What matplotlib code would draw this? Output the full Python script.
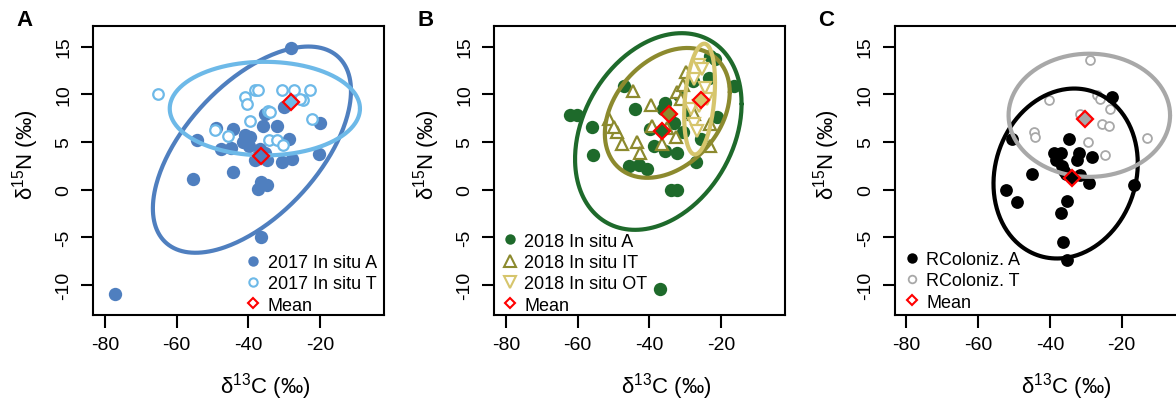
import numpy as np
import matplotlib
matplotlib.use("Agg")
import matplotlib.pyplot as plt
from matplotlib.lines import Line2D

plt.rcParams['font.family'] = ['Liberation Sans', 'DejaVu Sans']
plt.rcParams['mathtext.fontset'] = 'custom'
plt.rcParams['mathtext.rm'] = 'Liberation Sans'
plt.rcParams['mathtext.default'] = 'regular'

# ---------------- data ----------------
# Panel A (2017 in situ)
A_A_x = [-28.1, -30.0, -20.0, -20.2, -54.4, -44.2, -49.0, -47.5, -44.7, -40.9, -39.6, -39.7, -35.8, -35.4,
         -32.1, -28.6, -36.8, -35.4, -37.7, -38.2, -34.9, -30.7, -27.9, -55.5, -44.4, -36.6, -34.9, -37.2,
         -36.5, -77.2, -41.5]
A_A_y = [14.8, 8.7, 7.0, 3.7, 5.2, 6.4, 6.45, 4.3, 4.4, 5.75, 5.5, 4.6, 6.7, 7.9,
         6.7, 5.3, 4.3, 3.9, 3.4, 3.1, 3.1, 2.9, 3.2, 1.15, 1.9, 0.8, 0.5, 0.03,
         -4.95, -10.9, 5.0]
A_T_x = [-65.1, -40.9, -38.2, -37.2, -40.5, -30.7, -27.3, -22.8, -24.7, -25.6, -34.4, -34.0, -39.6, -22.3,
         -49.3, -45.6, -34.3, -32.1, -30.3]
A_T_y = [10.0, 9.7, 10.4, 10.4, 9.0, 10.4, 10.5, 10.4, 9.35, 9.5, 8.3, 8.1, 7.25, 7.4,
         6.3, 5.6, 5.2, 5.2, 4.7]
A_mean_x = [-36.6, -28.1]
A_mean_y = [3.5, 9.2]
# ellipses: centre x, centre y, half-width x, half-height y, correlation
A_ell = [(-39.0, 4.2, 27.6, 10.8, 0.57), (-35.4, 8.5, 26.5, 4.9, 0.0)]
A_labels = ['2017 In situ A', '2017 In situ T', 'Mean']

# Panel B (2018 in situ)
B_A_x = [-62.2, -60.1, -56.0, -55.7, -47.1, -45.7, -43.0, -40.6, -43.9, -35.5, -36.2, -39.7, -38.8, -35.5,
         -32.2, -27.1, -34.1, -32.4, -31.8, -27.8, -21.6, -23.0, -23.4, -16.5, -21.1, -25.7, -36.9, -33.0,
         -30.5, -29.0]
B_A_y = [7.85, 7.85, 6.6, 3.6, 10.85, 2.5, 2.55, 2.2, 8.5, 9.1, 8.5, 6.4, 4.6, 4.1,
         3.8, 2.9, -0.07, -0.07, 9.9, 11.4, 13.7, 14.05, 11.7, 10.85, 7.6, 5.3, -10.35, 7.0,
         6.0, 8.0]
B_IT_x = [-44.5, -51.3, -49.0, -47.6, -43.4, -42.7, -39.5, -39.2, -36.4, -32.7, -32.2, -31.3, -29.9, -27.6,
          -23.0, -23.0, -49.9, -30.5, -35.0]
B_IT_y = [10.3, 7.4, 6.0, 4.8, 5.0, 3.8, 8.9, 6.7, 4.8, 5.5, 10.2, 9.5, 12.3, 7.95,
          4.6, 6.9, 6.6, 11.0, 6.5]
B_OT_x = [-26.2, -24.4, -27.6, -28.5, -27.6, -26.7, -26.2, -25.3, -24.0]
B_OT_y = [13.1, 10.7, 11.6, 8.5, 6.9, 6.2, 8.8, 12.65, 9.5]
B_mean_x = [-36.4, -34.4, -25.7]
B_mean_y = [6.2, 7.95, 9.45]
B_ell = [(-37.5, 6.1, 23.2, 10.3, 0.28), (-35.0, 8.05, 17.4, 6.8, 0.32), (-26.0, 9.5, 4.3, 5.8, 0.30)]
B_labels = ['2018 In situ A', '2018 In situ IT', '2018 In situ OT', 'Mean']

# Panel C (RColoniz.)
C_A_x = [-22.6, -50.5, -34.7, -38.9, -37.0, -38.4, -36.6, -31.9, -32.4, -28.2, -31.7, -29.1, -44.9, -52.1,
         -49.1, -35.2, -37.0, -36.3, -35.2, -16.6, -35.5, -36.0]
C_A_y = [9.7, 5.3, 5.3, 3.8, 3.9, 3.1, 2.5, 3.8, 3.1, 3.4, 1.5, 0.73, 1.7, 0.0,
         -1.3, -1.2, -2.4, -5.5, -7.4, 0.45, 1.6, 2.0]
C_T_x = [-28.7, -40.3, -26.8, -25.9, -23.1, -31.5, -44.5, -44.0, -25.4, -23.6, -29.3, -24.5, -12.9]
C_T_y = [13.6, 9.35, 9.9, 9.5, 8.5, 7.95, 6.0, 5.5, 6.9, 6.7, 5.0, 3.66, 5.4]
C_mean_x = [-33.8, -30.1]
C_mean_y = [1.2, 7.4]
C_ell = [(-35.6, 1.7, 20.1, 8.9, 0.12), (-29.0, 7.8, 22.5, 6.45, 0.0)]
C_labels = ['RColoniz. A', 'RColoniz. T', 'Mean']

x_ticks = [-80, -60, -40, -20]
y_ticks = [-10, -5, 0, 5, 10, 15]

# ---------------- style ----------------
c_dblue, c_lblue = '#4F7FBF', '#6DB9E8'
c_dgreen, c_olive, c_khaki = '#1E6A2B', '#8C8A2E', '#D6C56C'
c_black, c_grey = '#000000', '#A8A8A8'
c_red = '#FF0000'

W, H = 1176, 402
fig = plt.figure(figsize=(W / 100, H / 100), dpi=100)

ax_w = 290.7 / W
ax_h = 288.7 / H
ax_b = 86 / H
lefts = [93.3 / W, 494.3 / W, 894.8 / W]


def ellipse(ax, params, color, lw=3.0):
    cx, cy, sx, sy, r = params
    t = np.linspace(0, 2 * np.pi, 300)
    x = cx + sx * np.cos(t)
    y = cy + sy * (r * np.cos(t) + np.sqrt(1 - r * r) * np.sin(t))
    ax.plot(x, y, color=color, lw=lw, zorder=4, solid_capstyle='round')


def style(ax, letter):
    ax.set_xlim(-83.2, -2.2)
    ax.set_ylim(-13.12, 17.12)
    ax.set_xticks(x_ticks)
    ax.set_yticks(y_ticks)
    ax.set_xticklabels([str(v) for v in x_ticks])
    ax.set_yticklabels([str(v) for v in y_ticks])
    ax.tick_params(axis='both', direction='out', length=9, width=1.5, labelsize=14, pad=6)
    ax.tick_params(axis='y', labelrotation=90)
    for lab in ax.get_yticklabels():
        lab.set_va('center')
    for s in ax.spines.values():
        s.set_linewidth(1.5)
    ax.set_xlabel('δ$^{13}$C (‰)', fontsize=16)
    ax.set_ylabel('δ$^{15}$N (‰)', fontsize=16)
    ax.xaxis.set_label_coords(0.59, -0.19)
    ax.yaxis.set_label_coords(-0.18, 0.56)
    ax.text(-0.235, 1.025, letter, transform=ax.transAxes, fontsize=16, fontweight='bold',
            ha='center', va='center')


leg_kw = dict(frameon=False, fontsize=13, handlelength=1.0, handletextpad=0.3,
              labelspacing=0.24, borderpad=0.0, borderaxespad=0.0)

# ---- Panel A ----
axA = fig.add_axes([lefts[0], ax_b, ax_w, ax_h])
axA.plot(A_A_x, A_A_y, 'o', color=c_dblue, ms=9.6, mew=0, zorder=2)
axA.plot(A_T_x, A_T_y, 'o', mfc='white', mec=c_lblue, ms=7.6, mew=1.6, zorder=3)
ellipse(axA, A_ell[0], c_dblue)
ellipse(axA, A_ell[1], c_lblue)
axA.plot(A_mean_x[0], A_mean_y[0], 'D', mfc=c_dblue, mec=c_red, ms=8, mew=1.6, zorder=6)
axA.plot(A_mean_x[1], A_mean_y[1], 'D', mfc=c_lblue, mec=c_red, ms=8, mew=1.6, zorder=6)
style(axA, 'A')
hA = [Line2D([], [], ls='', marker='o', color=c_dblue, ms=7.5, mew=0),
      Line2D([], [], ls='', marker='o', mfc='white', mec=c_lblue, ms=6, mew=1.5),
      Line2D([], [], ls='', marker='D', mfc='white', mec=c_red, ms=5.5, mew=1.5)]
axA.legend(hA, A_labels, loc='lower right', bbox_to_anchor=(0.975, 0.005), **leg_kw)

# ---- Panel B ----
axB = fig.add_axes([lefts[1], ax_b, ax_w, ax_h])
axB.plot(B_A_x, B_A_y, 'o', color=c_dgreen, ms=9.6, mew=0, zorder=2)
axB.plot(B_IT_x, B_IT_y, '^', mfc='white', mec=c_olive, ms=9, mew=1.6, zorder=3)
axB.plot(B_OT_x, B_OT_y, 'v', mfc='white', mec=c_khaki, ms=9, mew=1.6, zorder=3)
ellipse(axB, B_ell[0], c_dgreen)
ellipse(axB, B_ell[1], c_olive)
ellipse(axB, B_ell[2], c_khaki)
for mx, my, fc in zip(B_mean_x, B_mean_y, [c_dgreen, c_olive, c_khaki]):
    axB.plot(mx, my, 'D', mfc=fc, mec=c_red, ms=8, mew=1.6, zorder=6)
style(axB, 'B')
hB = [Line2D([], [], ls='', marker='o', color=c_dgreen, ms=7.5, mew=0),
      Line2D([], [], ls='', marker='^', mfc='white', mec=c_olive, ms=8, mew=1.5),
      Line2D([], [], ls='', marker='v', mfc='white', mec=c_khaki, ms=8, mew=1.5),
      Line2D([], [], ls='', marker='D', mfc='white', mec=c_red, ms=5.5, mew=1.5)]
axB.legend(hB, B_labels, loc='lower left', bbox_to_anchor=(0.022, 0.005), **leg_kw)

# ---- Panel C ----
axC = fig.add_axes([lefts[2], ax_b, ax_w, ax_h])
axC.plot(C_A_x, C_A_y, 'o', color=c_black, ms=9.2, mew=0, zorder=2)
axC.plot(C_T_x, C_T_y, 'o', mfc='white', mec=c_grey, ms=6.4, mew=1.3, zorder=3)
ellipse(axC, C_ell[0], c_black)
ellipse(axC, C_ell[1], c_grey)
axC.plot(C_mean_x[0], C_mean_y[0], 'D', mfc=c_black, mec=c_red, ms=8, mew=1.6, zorder=6)
axC.plot(C_mean_x[1], C_mean_y[1], 'D', mfc=c_grey, mec=c_red, ms=8, mew=1.6, zorder=6)
style(axC, 'C')
hC = [Line2D([], [], ls='', marker='o', color=c_black, ms=7.5, mew=0),
      Line2D([], [], ls='', marker='o', mfc='white', mec=c_grey, ms=5.5, mew=1.3),
      Line2D([], [], ls='', marker='D', mfc='white', mec=c_red, ms=5.5, mew=1.5)]
axC.legend(hC, C_labels, loc='lower left', bbox_to_anchor=(0.027, 0.015), **leg_kw)

fig.savefig('out.png', dpi=100)
